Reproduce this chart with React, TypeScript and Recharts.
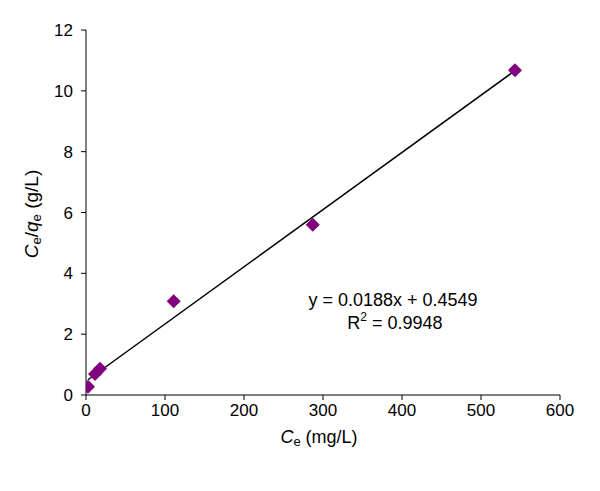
import React from 'react';
import { ComposedChart, Scatter, Line, XAxis, YAxis, Customized } from 'recharts';

const ceValues = [2.5, 11.4, 17.7, 111, 287, 543];
const ratioValues = [0.27, 0.69, 0.86, 3.08, 5.6, 10.68];
const xTicks = [0, 100, 200, 300, 400, 500, 600];
const yTicks = [0, 2, 4, 6, 8, 10, 12];
const slope = 0.0188;
const intercept = 0.4549;
const rSquared = '0.9948';

const points = ceValues.map((x, i) => ({ x, y: ratioValues[i] }));
const xMin = Math.min(...ceValues);
const xMax = Math.max(...ceValues);
const trend = [
  { x: xMin, t: slope * xMin + intercept },
  { x: xMax, t: slope * xMax + intercept },
];

const FONT = 'Liberation Sans, Arial, sans-serif';

const Diamond = (props: any) => {
  const { cx, cy } = props;
  if (cx == null || cy == null) return null;
  const r = 7;
  return (
    <polygon
      points={`${cx},${cy - r} ${cx + r},${cy} ${cx},${cy + r} ${cx - r},${cy}`}
      fill="#800080"
    />
  );
};

const Annotations = () => (
  <g fontFamily={FONT} fill="#000">
    <text x={393} y={306} fontSize={18} textAnchor="middle">
      y = 0.0188x + 0.4549
    </text>
    <text x={395} y={329} fontSize={18} textAnchor="middle">
      R<tspan fontSize={12} dy={-8}>2</tspan>
      <tspan dy={8}> = {rSquared}</tspan>
    </text>
    <text x={319} y={443} fontSize={18} textAnchor="middle">
      <tspan fontStyle="italic">C</tspan>
      <tspan fontSize={13} dy={3}>e</tspan>
      <tspan dy={-3}> (mg/L)</tspan>
    </text>
    <text
      x={0}
      y={0}
      fontSize={19}
      textAnchor="middle"
      transform="translate(38,214) rotate(-90)"
    >
      <tspan fontStyle="italic">C</tspan>
      <tspan fontSize={13} dy={3}>e</tspan>
      <tspan dy={-3}>/</tspan>
      <tspan fontStyle="italic">q</tspan>
      <tspan fontSize={13} dy={3}>e</tspan>
      <tspan dy={-3}> (g/L)</tspan>
    </text>
  </g>
);

export default function App() {
  return (
    <div style={{ position: 'absolute', left: 0, top: 0, width: 600, height: 491, background: '#fff' }}>
      <ComposedChart
        width={600}
        height={491}
        margin={{ top: 30, right: 40, bottom: 0, left: 0 }}
        style={{ fontFamily: FONT }}
      >
        <XAxis
          type="number"
          dataKey="x"
          domain={[0, 600]}
          ticks={xTicks}
          interval={0}
          allowDataOverflow
          height={96}
          tickSize={5}
          tickMargin={4}
          stroke="#000"
          tick={{ fill: '#000', fontSize: 17, fontFamily: FONT }}
          axisLine={{ stroke: '#000', strokeWidth: 1 }}
          tickLine={{ stroke: '#000' }}
        />
        <YAxis
          type="number"
          domain={[0, 12]}
          ticks={yTicks}
          interval={0}
          width={86}
          tickSize={5}
          tickMargin={8}
          stroke="#000"
          tick={{ fill: '#000', fontSize: 17, fontFamily: FONT }}
          axisLine={{ stroke: '#000', strokeWidth: 1 }}
          tickLine={{ stroke: '#000' }}
        />
        <Line
          data={trend}
          dataKey="t"
          type="linear"
          stroke="#000"
          strokeWidth={1.5}
          dot={false}
          activeDot={false}
          isAnimationActive={false}
        />
        <Scatter
          data={points}
          dataKey="y"
          shape={<Diamond />}
          isAnimationActive={false}
        />
        <Customized component={Annotations} />
      </ComposedChart>
    </div>
  );
}
